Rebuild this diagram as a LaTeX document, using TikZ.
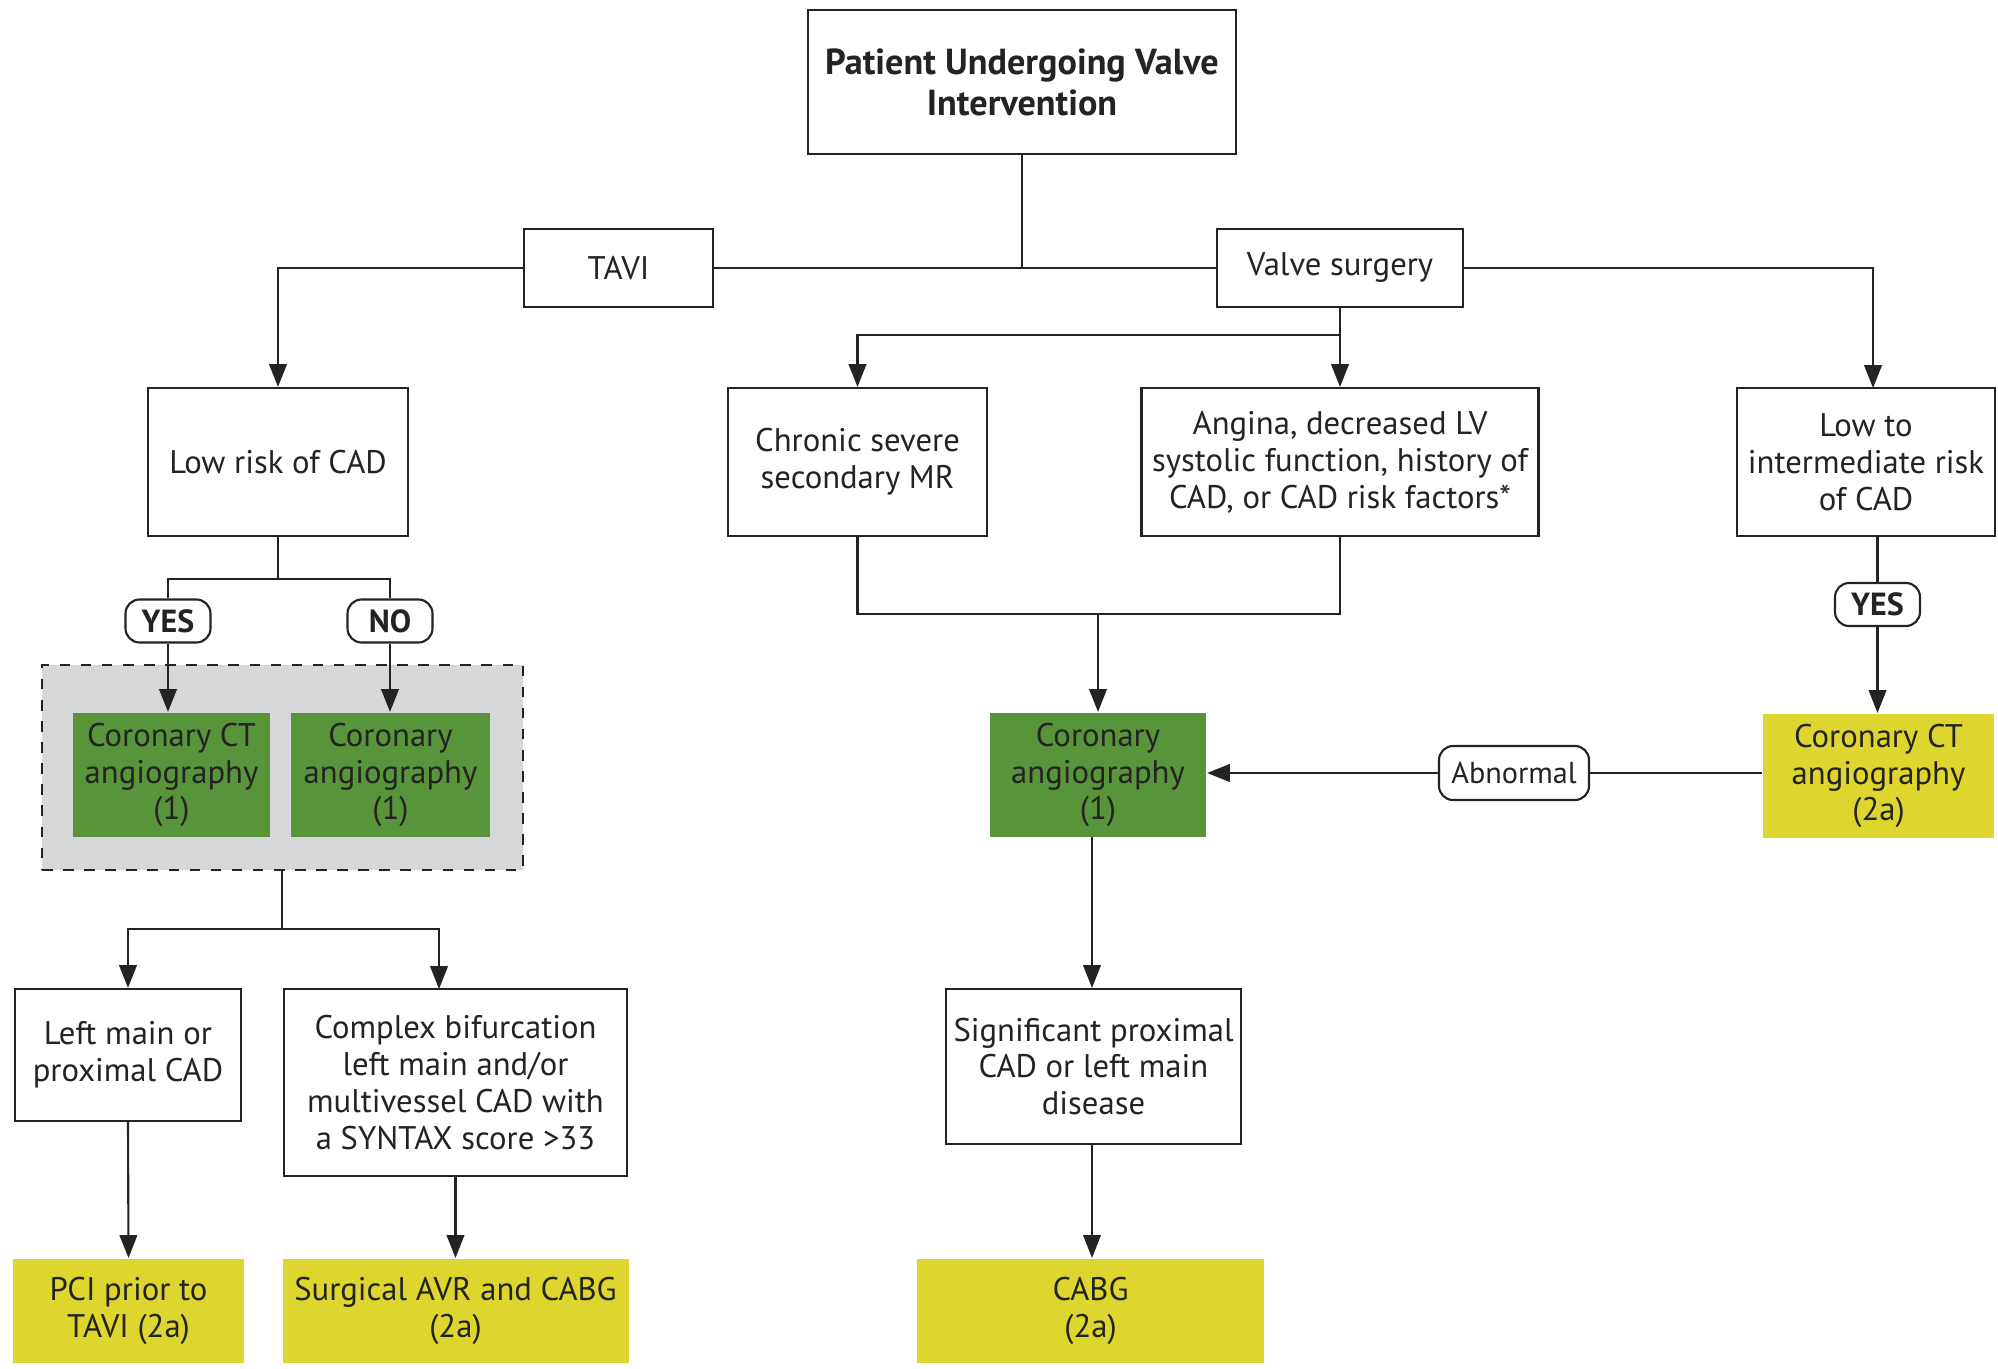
\documentclass[tikz,border=0pt]{standalone}
\usepackage{fontspec}
\setmainfont{PT Sans}
\usepackage{tikz}
\usetikzlibrary{arrows.meta, positioning, calc}
\usepackage{xcolor}
\definecolor{ink}{RGB}{35,35,35}
\definecolor{classone}{RGB}{88,148,58}
\definecolor{classtwo}{RGB}{222,213,46}
\definecolor{groupgray}{RGB}{214,215,217}

\begin{document}
\begin{tikzpicture}[x=1cm, y=-1cm,
    font=\fontsize{9.3}{10.5}\selectfont, text=ink,
    every path/.style={draw=ink, line width=0.6pt},
    box/.style={draw=ink, fill=white, align=center, inner sep=2pt},
    greenbox/.style={box, draw=none, fill=classone},
    yellowbox/.style={box, draw=none, fill=classtwo},
    tag/.style={draw=ink, fill=white, rounded corners=4pt, font=\fontsize{9.1}{10.5}\selectfont\bfseries,
      minimum width=0.85cm, minimum height=0.43cm, inner sep=1pt},
    arr/.style={-{Triangle[length=6.5pt, width=5pt]}}]
  \useasboundingbox[fill=white, draw=none] (0,0) rectangle (19.98,13.69);

  % top level
  \node[box, minimum width=4.28cm, minimum height=1.44cm, font=\fontsize{10.3}{11.7}\selectfont\bfseries]
    (patient) at (10.22,0.82) {Patient Undergoing Valve\\Intervention};
  \node[box, minimum width=1.89cm, minimum height=0.78cm] (tavi) at (6.185,2.68) {TAVI};
  \node[box, minimum width=2.46cm, minimum height=0.78cm] (valve) at (13.40,2.68) {Valve surgery};

  % second row
  \node[box, minimum width=2.60cm, minimum height=1.48cm] (lowrisk) at (2.78,4.62) {Low risk of CAD};
  \node[box, minimum width=2.59cm, minimum height=1.48cm] (chronic) at (8.575,4.62) {Chronic severe\\secondary MR};
  \node[box, minimum width=3.97cm, minimum height=1.48cm] (angina) at (13.40,4.62)
    {Angina, decreased LV\\systolic function, history of\\CAD, or CAD risk factors*};
  \node[box, minimum width=2.58cm, minimum height=1.48cm] (lowint) at (18.66,4.62)
    {Low to\\intermediate risk\\of CAD};

  % TAVI imaging
  \node[tag] (yesL) at (1.68,6.21) {YES};
  \node[tag] (noL) at (3.90,6.21) {NO};
  \node[draw=ink, dashed, fill=groupgray, minimum width=4.81cm, minimum height=2.05cm, inner sep=0pt]
    (group) at (2.825,7.675) {};
  \node[greenbox, minimum width=1.97cm, minimum height=1.24cm] (ctaL) at (1.715,7.75)
    {Coronary CT\\angiography\\(1)};
  \node[greenbox, minimum width=1.99cm, minimum height=1.24cm] (caL) at (3.905,7.75)
    {Coronary\\angiography\\(1)};

  % TAVI outcomes
  \node[box, minimum width=2.26cm, minimum height=1.32cm] (leftmain) at (1.28,10.55)
    {Left main or\\proximal CAD};
  \node[box, minimum width=3.43cm, minimum height=1.87cm] (complex) at (4.555,10.825)
    {Complex bifurcation\\left main and/or\\multivessel CAD with\\a SYNTAX score >33};
  \node[yellowbox, minimum width=2.31cm, minimum height=1.04cm] (pci) at (1.285,13.11)
    {PCI prior to\\TAVI (2a)};
  \node[yellowbox, minimum width=3.46cm, minimum height=1.04cm] (savr) at (4.555,13.11)
    {Surgical AVR and CABG\\(2a)};

  % surgery branch
  \node[greenbox, minimum width=2.16cm, minimum height=1.24cm] (caM) at (10.98,7.75)
    {Coronary\\angiography\\(1)};
  \node[tag] (yesR) at (18.775,6.045) {YES};
  \node[yellowbox, minimum width=2.31cm, minimum height=1.24cm] (ctaR) at (18.785,7.76)
    {Coronary CT\\angiography\\(2a)};
  \node[tag, font=\fontsize{8.6}{10}\selectfont, minimum width=1.50cm, minimum height=0.54cm]
    (abnormal) at (15.14,7.73) {Abnormal};
  \node[box, minimum width=2.95cm, minimum height=1.55cm] (signif) at (10.935,10.665)
    {Significant proximal\\CAD or left main\\disease};
  \node[yellowbox, minimum width=3.47cm, minimum height=1.04cm] (cabg) at (10.905,13.11)
    {CABG\\(2a)};

  \coordinate (vsplit) at (13.40,3.35);
  \coordinate (lsplit) at (2.78,5.79);
  \coordinate (gsplit) at (2.82,9.29);
  \coordinate (mjoin) at (10.98,6.14);
  \coordinate (mdown) at (10.92,8.37);
  \coordinate (cxin) at (4.39,9.89);
  \coordinate (liin) at (18.73,3.88);

  % connectors
  \draw (patient.south) -- (patient.south |- tavi.east);
  \draw (tavi.east) -- (valve.west);
  \draw[arr] (tavi.west) -| (lowrisk.north);
  \draw[arr] (valve.east) -| (liin);
  \draw[arr] (valve.south) -- (angina.north);
  \draw[arr] (vsplit) -| (chronic.north);

  \draw (lowrisk.south) -- (lsplit);
  \draw (yesL.north) |- (lsplit) -| (noL.north);
  \draw[arr] (yesL.south) -- (yesL.south |- ctaL.north);
  \draw[arr] (noL.south) -- (noL.south |- caL.north);
  \draw (group.south -| gsplit) -- (gsplit);
  \draw[arr] (gsplit) -| (leftmain.north);
  \draw[arr] (gsplit) -| (cxin);
  \draw[arr] (leftmain.south) -- (pci.north);
  \draw[arr] (complex.south) -- (savr.north);

  \draw (chronic.south) |- (mjoin) -| (angina.south);
  \draw[arr] (mjoin) -- (caM.north);
  \draw (yesR.north |- lowint.south) -- (yesR.north);
  \draw[arr] (yesR.south) -- (yesR.south |- ctaR.north);
  \draw (ctaR.west |- abnormal.east) -- (abnormal.east);
  \draw[arr] (abnormal.west) -- (caM.east |- abnormal.west);
  \draw[arr] (mdown) -- (mdown |- signif.north);
  \draw[arr] (mdown |- signif.south) -- (mdown |- cabg.north);
\end{tikzpicture}
\end{document}
